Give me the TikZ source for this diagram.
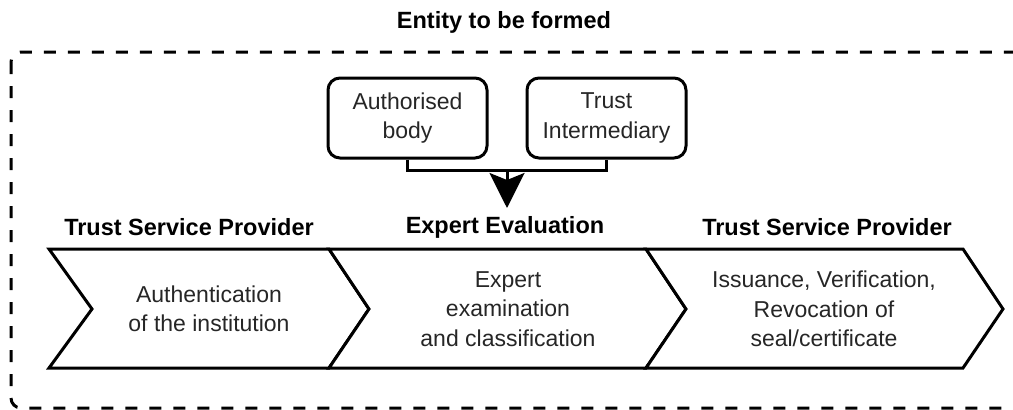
\documentclass[tikz,border=0pt]{standalone}
\usepackage{fontspec}
\setmainfont{Liberation Sans}
\usetikzlibrary{arrows.meta}
\tikzset{
  lbl/.style={font=\fontsize{23.5}{28}\selectfont\bfseries, text=black, inner sep=0pt},
  txt/.style={font=\fontsize{23}{29.5}\selectfont, text=black!85, align=center, inner sep=0pt},
  chev/.style={draw=black, line width=3pt, line join=miter, fill=white},
  rbox/.style={draw=black, line width=3pt, rounded corners=12pt, fill=white, minimum width=159pt, minimum height=80pt, txt},
  conn/.style={draw=black, line width=3pt},
  frame/.style={draw=black, line width=3pt, dash pattern=on 12pt off 12pt, rounded corners=10pt}
}
\begin{document}
\begin{tikzpicture}[x=1pt, y=-1pt]
\useasboundingbox (0,0) rectangle (1013,410);
\begin{scope}
\clip (0,0) rectangle (1013,410);
\draw[frame] (11,52) rectangle (1045,408);
\end{scope}
\node[lbl] (title) at (504,22) {Entity to be formed};
% chevrons
\draw[chev] (49,249) -- (329,249) -- (369,309) -- (329,368) -- (49,368) -- (92,309) -- cycle;
\draw[chev] (329,249) -- (646,249) -- (686,309) -- (646,368) -- (329,368) -- (369,309) -- cycle;
\draw[chev] (646,249) -- (963,249) -- (1003,309) -- (963,368) -- (646,368) -- (686,309) -- cycle;
\node[lbl] (h1) at (189,227) {Trust Service Provider};
\node[lbl] (h2) at (505,227) {Expert Evaluation};
\node[lbl] (h3) at (827,227) {Trust Service Provider};
\node[txt] (c1) at (209,309) {Authentication\\of the institution};
\node[txt] (c2) at (508,309) {Expert\\examination\\and classification};
\node[txt] (c3) at (824,309) {Issuance, Verification,\\Revocation of\\seal/certificate};
% top boxes
\node[rbox] (ab) at (407.5,118) {Authorised\\body};
\node[rbox] (ti) at (606.5,118) {Trust\\Intermediary};
\coordinate (mid) at (507,170);
\coordinate (tip) at (507,208);
\draw[conn] (ab.south) |- (mid) -| (ti.south);
\draw[conn, -{Stealth[length=35pt, width=35pt, inset=7pt]}] (mid) -- (tip);
\end{tikzpicture}
\end{document}
